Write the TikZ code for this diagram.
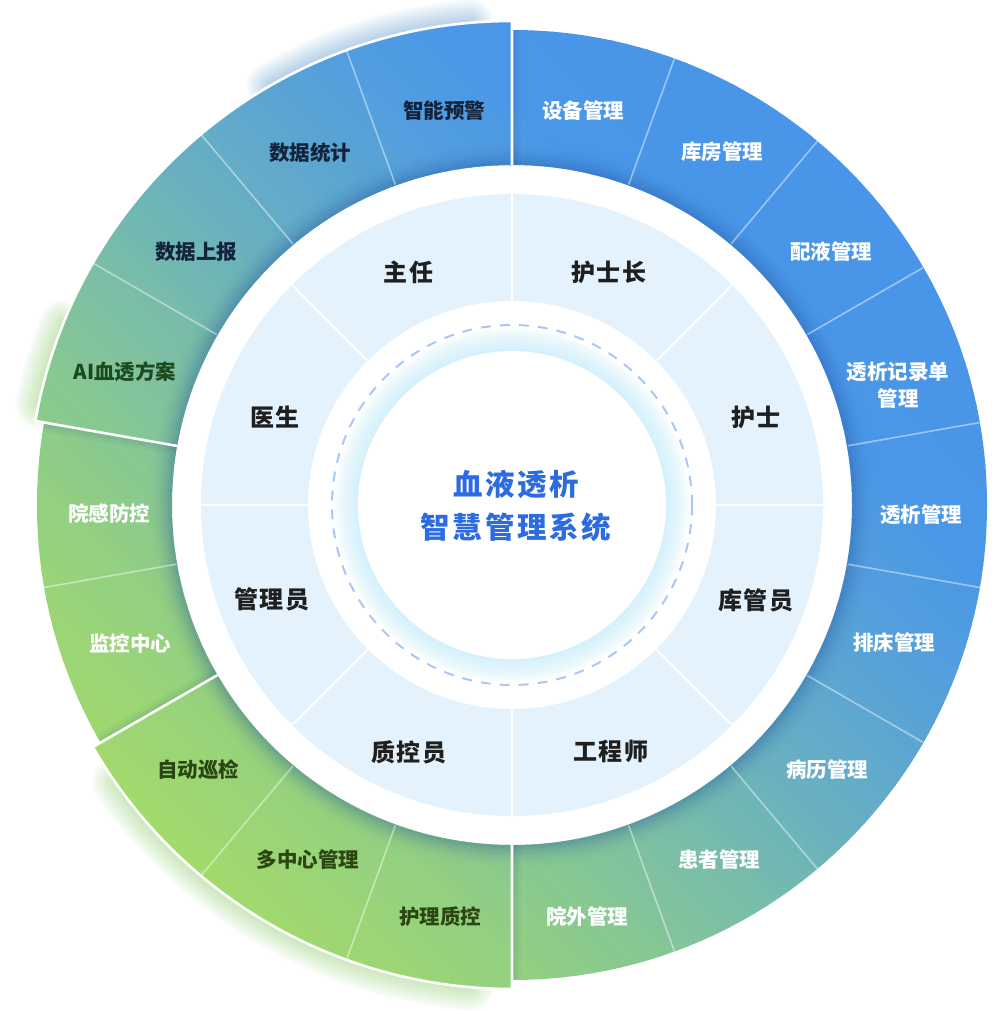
\documentclass[tikz,border=0pt]{standalone}
\usepackage{fontspec}
\newfontfamily\cjk{Noto Sans CJK SC}
\newfontfamily\cjktitle{Noto Sans CJK SC}[LetterSpace=9]
\newfontfamily\cjkrole{Noto Sans CJK SC}[LetterSpace=5]
\definecolor{g0}{HTML}{4895EA}
\definecolor{g1}{HTML}{4A97E8}
\definecolor{g2}{HTML}{55A0DB}
\definecolor{g3}{HTML}{66AEC4}
\definecolor{g4}{HTML}{7DC0A2}
\definecolor{g5}{HTML}{92CF82}
\definecolor{g6}{HTML}{A5DC68}
\definecolor{innerc}{HTML}{E3F2FD}
\definecolor{dashc}{HTML}{A9C7F8}
\definecolor{glowc}{HTML}{C6EEFC}
\definecolor{titlec}{HTML}{2D6CE0}
\definecolor{rolec}{HTML}{1F1F1F}
\definecolor{navyc}{HTML}{14233C}
\definecolor{dkgreenc}{HTML}{1B4A1E}
\definecolor{olivec}{HTML}{2B4612}
\definecolor{glowA}{HTML}{5B9CEB}
\definecolor{glowG}{HTML}{8CCB6A}
\definecolor{shadowc}{HTML}{1A3F7A}
\definecolor{innsh}{HTML}{1E4F9A}
\tikzset{
  outer/.style={font=\cjk\bfseries\fontsize{20.5}{27}\selectfont, align=center, inner sep=0pt},
  role/.style={font=\cjkrole\bfseries\fontsize{24}{28}\selectfont, text=rolec, inner sep=0pt},
  titlestyle/.style={font=\cjktitle\bfseries\fontsize{29.5}{43}\selectfont, text=titlec, align=center, inner sep=0pt},
  divider/.style={white, opacity=0.45, line width=1.6},
  groupborder/.style={white, line width=2.6, line join=round},
}
\newcommand\ringgrad{%
  \begin{scope}[rotate=45]
    \foreach \pa/\pb/\ca/\cb in {1.05/0.6/g0/g1, 0.6/0.35/g1/g2, 0.35/0.05/g2/g3, 0.05/-0.3/g3/g4, -0.3/-0.65/g4/g5, -0.65/-1.05/g5/g6}{
      \foreach \i in {0,...,11}{
        \pgfmathsetmacro\xa{484*(\pa+(\pb-\pa)*\i/12)+0.6}
        \pgfmathsetmacro\xb{484*(\pa+(\pb-\pa)*(\i+1)/12)-0.6}
        \pgfmathtruncatemacro\pc{100*(\i+0.5)/12}
        \fill[\cb!\pc!\ca] (\xa,-500) rectangle (\xb,500);
      }
    }
  \end{scope}}
\newcommand\sectorpath[4]{(#1:#3) -- (#1:#4) arc[start angle=#1, end angle=#2, radius=#4] -- (#2:#3) arc[start angle=#2, end angle=#1, radius=#3] -- cycle}
\newcommand\wlabel[3]{\node[outer, text=white] (#1) at (#2) {#3};}
\newcommand\dlabel[4]{\node[outer, text=#4] (#1) at (#2) {#3};}
\begin{document}
\begin{tikzpicture}[x=1pt,y=1pt]
\useasboundingbox (0,0) rectangle (992,-1012);
\fill[white] (0,0) rectangle (992,-1012);
\begin{scope}[shift={(512,-505)}]
  % soft glows of the raised groups
  \foreach \k in {1,...,24}{
    \pgfmathsetmacro\w{2*\k}
    \draw[glowA, line width=\w, opacity=0.02, line cap=round] (95:484) arc[start angle=95, end angle=120, radius=484];
    \draw[glowG, line width=\w, opacity=0.02, line cap=round] (158:484) arc[start angle=158, end angle=168, radius=484];
    \draw[glowG, line width=\w, opacity=0.02, line cap=round] (215:484) arc[start angle=215, end angle=265, radius=484];
  }
  % normal outer ring
  \begin{scope}
    \clip \sectorpath{0}{360}{340}{475};
    \ringgrad
    \foreach \ang in {90,170,210,270}{
      \foreach \w/\o in {18/0.04, 11/0.05, 5/0.06}{
        \draw[shadowc, line width=\w, opacity=\o] (\ang:340) -- (\ang:475);
      }
    }
  \end{scope}
  % raised groups
  \begin{scope}
    \clip \sectorpath{90}{170}{340}{484};
    \ringgrad
  \end{scope}
  \begin{scope}
    \clip \sectorpath{210}{270}{340}{484};
    \ringgrad
  \end{scope}
  % inner shadow of the outer ring
  \foreach \i in {0,...,11}{
    \pgfmathsetmacro\op{0.3*(1-\i/12)^2}
    \draw[innsh, opacity=\op, line width=2.2] (0,0) circle[radius={341.1+2*\i}];
  }
  % dividers
  \foreach \ang in {-70,-50,-30,-10,10,30,50,70,190}{
    \draw[divider] (\ang:341) -- (\ang:475);
  }
  \foreach \ang in {110,130,150,230,250}{
    \draw[divider] (\ang:341) -- (\ang:484);
  }
  % white borders of raised groups
  \draw[groupborder] (90:340) -- (90:484) arc[start angle=90, end angle=170, radius=484] -- (170:340);
  \draw[groupborder] (210:340) -- (210:484) arc[start angle=210, end angle=270, radius=484] -- (270:340);
  % inner ring
  \fill[innerc] \sectorpath{0}{360}{204}{311};
  \foreach \ang in {0,45,...,315}{
    \draw[white, line width=1.6] (\ang:204) -- (\ang:311);
  }
  % dashed circle
  \draw[dashc, line width=2, dash pattern=on 10 off 9] (0,0) circle[radius=180];
  % centre glow and disk
  \foreach \i in {0,...,11}{
    \fill[glowc, opacity=0.09] (0,0) circle[radius={177-2*\i}];
  }
  \fill[white] (0,0) circle[radius=154];
\end{scope}
% centre title
\node[titlestyle] (title) at (516,-505.5) {血液透析\\智慧管理系统};
% roles
\node[role] (zhuren) at (408.5,-272) {主任};
\node[role] (hushizhang) at (609,-272) {护士长};
\node[role] (yisheng) at (275,-417) {医生};
\node[role] (hushi) at (756,-417) {护士};
\node[role] (guanliyuan) at (272,-599) {管理员};
\node[role] (kuguanyuan) at (756,-600) {库管员};
\node[role] (zhikongyuan) at (409,-752) {质控员};
\node[role] (gongchengshi) at (611,-751) {工程师};
% outer labels
\dlabel{zhineng}{444,-111}{智能预警}{navyc}
\dlabel{tongji}{310,-153}{数据统计}{navyc}
\dlabel{shangbao}{196,-252}{数据上报}{navyc}
\dlabel{aifangan}{125,-372}{AI血透方案}{dkgreenc}
\wlabel{yuangan}{109,-514}{院感防控}
\wlabel{jiankong}{130,-644}{监控中心}
\dlabel{xunjian}{198,-770}{自动巡检}{olivec}
\dlabel{duozhongxin}{308,-860}{多中心管理}{olivec}
\dlabel{huli}{440,-917}{护理质控}{olivec}
\wlabel{yuanwai}{587,-917}{院外管理}
\wlabel{huanzhe}{719,-860}{患者管理}
\wlabel{bingli}{827,-770}{病历管理}
\wlabel{paichuang}{894,-643}{排床管理}
\wlabel{touxi}{921,-515}{透析管理}
\wlabel{jilu}{898,-385}{透析记录单\\管理}
\wlabel{peiye}{831,-252}{配液管理}
\wlabel{kufang}{722,-152}{库房管理}
\wlabel{shebei}{583,-111}{设备管理}
\end{tikzpicture}
\end{document}
